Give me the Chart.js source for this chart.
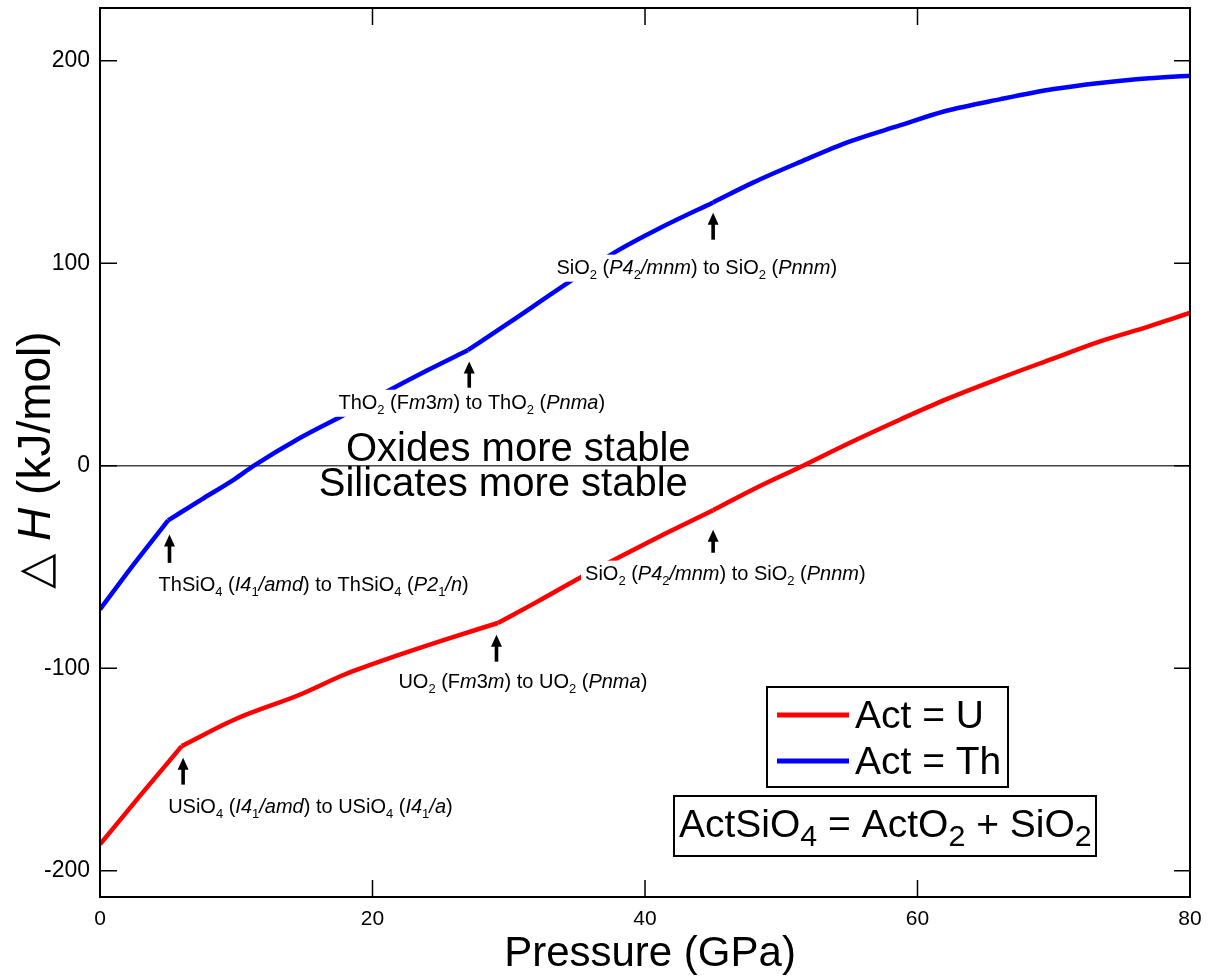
<!DOCTYPE html>
<html>
<head>
  <title>ActSiO4 decomposition enthalpy</title>
  <script src="https://cdn.jsdelivr.net/npm/chart.js"></script>
  <style>
    body { margin: 0; background: #fff; }
    #wrap { width: 1215px; height: 978px; }
  </style>
</head>
<body>
<div id="wrap"><canvas id="enthalpyChart"></canvas></div>
<script>
  // values (pressure in GPa, enthalpy in kJ/mol)
  const pressureU = [0, 2.9, 6, 10, 14.7, 18, 22, 25.5, 29.2, 32, 35.2, 38.2, 41.5, 45, 48, 51.6, 55, 58.7, 62, 66.1, 70, 73.4, 77, 80];
  const enthalpyU = [-187, -163.3, -138.5, -125, -113, -103, -93.3, -85.5, -77.7, -67.5, -55.5, -44.8, -33.5, -22, -11.5, 0, 11.2, 22.7, 32.5, 43.3, 53, 61.4, 68.8, 75.4];
  const pressureTh = [0, 2.5, 5, 7.5, 9.8, 11.3, 14.7, 17.8, 21.3, 24, 27, 30, 34.5, 37.9, 41, 45, 48, 51.4, 55, 58.7, 62, 66.1, 70, 73.4, 77, 80];
  const enthalpyTh = [-71, -48.5, -27, -16.5, -7, 0, 13.8, 24.7, 37.5, 47, 57, 70.5, 91, 105.8, 117, 130, 140, 150, 160, 168, 175, 181, 186, 189, 191.3, 192.6];
  // pressures where a phase changes (kinks in the curves)
  const breaksU = [6, 29.2, 45];
  const breaksTh = [5, 27, 45];
  const seriesLabels = ['Act = U', 'Act = Th'];
  const seriesColors = ['#ff0000', '#0000ff'];

  const xTicks = [0, 20, 40, 60, 80];
  const yTicks = [-200, -100, 0, 100, 200];

  // phase transition notes: * toggles italic, _ makes next char a subscript
  const transitionLabels = [
    'ThSiO_4 (*I4*_1*/amd*) to ThSiO_4 (*P2*_1*/n*)',
    'ThO_2 (F*m*3*m*) to ThO_2 (*Pnma*)',
    'SiO_2 (*P4*_2*/mnm*) to SiO_2 (*Pnnm*)',
    'SiO_2 (*P4*_2*/mnm*) to SiO_2 (*Pnnm*)',
    'UO_2 (F*m*3*m*) to UO_2 (*Pnma*)',
    'USiO_4 (*I4*_1*/amd*) to USiO_4 (*I4*_1*/a*)'
  ];
  const arrowP = [5.1, 27.1, 45, 45, 29.1, 6.1];
  const arrowTipH = [-34, 51.4, 124.9, -31.6, -83.5, -144.2];
  const arrowTailH = [-48, 38.5, 111.6, -43, -96.8, -157.5];
  const labelP = [4.3, 17.5, 33.5, 35.6, 21.9, 5.0];
  const labelH = [-61.7, 28.1, 94.8, -56.3, -109.6, -171.4];

  const regionLabels = ['Oxides more stable', 'Silicates more stable'];
  const regionP = [30.7, 29.6];
  const regionH = [2.1, -15.2];
  const reactionLabel = 'ActSiO_4 = ActO_2 + SiO_2';

  const FONT = 'Arial, "Liberation Sans", sans-serif';

  // one dataset per phase regime, so the kinks stay sharp
  function segments(px, hs, breaks, color) {
    const out = [];
    let cur = [];
    px.forEach((p, i) => {
      cur.push({ x: p, y: hs[i] });
      if (breaks.includes(p)) { out.push(cur); cur = [{ x: p, y: hs[i] }]; }
    });
    out.push(cur);
    return out.map(pts => ({
      data: pts,
      borderColor: color,
      fill: false,
      cubicInterpolationMode: 'monotone'
    }));
  }

  function parseRich(str) {
    const segs = [];
    let italic = false;
    for (let i = 0; i < str.length; i++) {
      const c = str[i];
      if (c === '*') { italic = !italic; continue; }
      if (c === '_') { segs.push({ t: str[++i], italic, sub: true }); continue; }
      const last = segs[segs.length - 1];
      if (last && !last.sub && last.italic === italic) last.t += c;
      else segs.push({ t: c, italic, sub: false });
    }
    return segs;
  }

  function segFont(seg, size, subScale) {
    const s = seg.sub ? size * subScale : size;
    return (seg.italic ? 'italic ' : '') + s + 'px ' + FONT;
  }

  function richWidth(ctx, segs, size, subScale) {
    let w = 0;
    segs.forEach(seg => { ctx.font = segFont(seg, size, subScale); w += ctx.measureText(seg.t).width; });
    return w;
  }

  function drawRich(ctx, segs, x, y, size, subScale, subDrop) {
    ctx.textBaseline = 'alphabetic';
    ctx.textAlign = 'left';
    segs.forEach(seg => {
      ctx.font = segFont(seg, size, subScale);
      ctx.fillText(seg.t, x, y + (seg.sub ? subDrop : 0));
      x += ctx.measureText(seg.t).width;
    });
    return x;
  }

  function drawArrow(ctx, x, yTip, yTail) {
    ctx.fillStyle = '#000';
    ctx.fillRect(x - 1.8, yTip + 10, 3.6, yTail - yTip - 10);
    ctx.beginPath();
    ctx.moveTo(x, yTip);
    ctx.lineTo(x - 5.5, yTip + 12);
    ctx.lineTo(x + 5.5, yTip + 12);
    ctx.closePath();
    ctx.fill();
  }

  const decor = {
    id: 'decor',
    afterDatasetsDraw(chart) {
      const ctx = chart.ctx;
      const xs = chart.scales.x, ys = chart.scales.y;
      const area = chart.chartArea;
      ctx.save();

      // transition notes with white backing, then arrows
      transitionLabels.forEach((txt, i) => {
        const segs = parseRich(txt);
        const x = xs.getPixelForValue(labelP[i]);
        const y = ys.getPixelForValue(labelH[i]);
        const w = richWidth(ctx, segs, 20, 0.65);
        ctx.fillStyle = '#fff';
        ctx.fillRect(x - 4, y - 19, w + 8, 27);
        ctx.fillStyle = '#000';
        drawRich(ctx, segs, x, y, 20, 0.65, 5);
        drawArrow(ctx, xs.getPixelForValue(arrowP[i]), ys.getPixelForValue(arrowTipH[i]), ys.getPixelForValue(arrowTailH[i]));
      });

      // region labels around the zero line
      ctx.fillStyle = '#000';
      ctx.font = '40px ' + FONT;
      ctx.textAlign = 'center';
      ctx.textBaseline = 'alphabetic';
      regionLabels.forEach((txt, i) => {
        ctx.fillText(txt, xs.getPixelForValue(regionP[i]), ys.getPixelForValue(regionH[i]));
      });

      // legend box
      ctx.lineWidth = 2;
      ctx.strokeStyle = '#000';
      ctx.strokeRect(767, 687, 241, 100);
      seriesLabels.forEach((label, i) => {
        const ly = 715 + i * 46;
        ctx.strokeStyle = seriesColors[i];
        ctx.lineWidth = 5;
        ctx.beginPath();
        ctx.moveTo(777, ly);
        ctx.lineTo(849, ly);
        ctx.stroke();
        ctx.fillStyle = '#000';
        ctx.font = '39px ' + FONT;
        ctx.textAlign = 'left';
        ctx.fillText(label, 855, ly + 13);
      });

      // reaction box
      ctx.strokeStyle = '#000';
      ctx.lineWidth = 2;
      ctx.strokeRect(674, 796, 422, 60);
      ctx.fillStyle = '#000';
      drawRich(ctx, parseRich(reactionLabel), 679, 837, 39, 0.78, 9);

      // frame and inward ticks
      ctx.strokeStyle = '#000';
      ctx.lineWidth = 2;
      ctx.strokeRect(area.left, area.top, area.right - area.left, area.bottom - area.top);
      ctx.lineWidth = 1.5;
      ctx.beginPath();
      xTicks.forEach(v => {
        const px = xs.getPixelForValue(v);
        ctx.moveTo(px, area.bottom); ctx.lineTo(px, area.bottom - 17);
        ctx.moveTo(px, area.top); ctx.lineTo(px, area.top + 17);
      });
      yTicks.forEach(v => {
        const py = ys.getPixelForValue(v);
        ctx.moveTo(area.left, py); ctx.lineTo(area.left + 17, py);
        ctx.moveTo(area.right, py); ctx.lineTo(area.right - 16, py);
      });
      ctx.stroke();

      // axis titles
      ctx.fillStyle = '#000';
      ctx.font = '42px ' + FONT;
      ctx.textAlign = 'center';
      ctx.fillText('Pressure (GPa)', (area.left + area.right) / 2 + 5, 966);

      const ySegs = parseRich('\u25B3 *H* (kJ/mol)');
      const yw = richWidth(ctx, ySegs, 46, 1);
      ctx.translate(50, 460);
      ctx.rotate(-Math.PI / 2);
      drawRich(ctx, ySegs, -yw / 2, 0, 46, 1, 0);
      ctx.restore();
    }
  };

  const ctx = document.getElementById('enthalpyChart').getContext('2d');
  new Chart(ctx, {
    type: 'line',
    data: {
      datasets: [
        ...segments(pressureU, enthalpyU, breaksU, seriesColors[0]),
        ...segments(pressureTh, enthalpyTh, breaksTh, seriesColors[1])
      ]
    },
    options: {
      responsive: true,
      maintainAspectRatio: false,
      animation: false,
      layout: { padding: { top: 8, right: 25, left: 0, bottom: 0 } },
      plugins: { legend: { display: false }, tooltip: { enabled: false } },
      elements: {
        point: { radius: 0 },
        line: { borderWidth: 4.5, borderCapStyle: 'butt' }
      },
      scales: {
        x: {
          type: 'linear',
          min: 0,
          max: 80,
          afterBuildTicks: s => { s.ticks = xTicks.map(v => ({ value: v })); },
          afterFit: s => { s.height = 81; s.paddingLeft = 0; s.paddingRight = 0; },
          grid: { display: false, drawTicks: false },
          border: { display: false },
          ticks: { padding: 10, maxRotation: 0, color: '#000', font: { family: FONT, size: 21 } }
        },
        y: {
          type: 'linear',
          min: -213,
          max: 226,
          afterBuildTicks: s => { s.ticks = yTicks.map(v => ({ value: v })); },
          afterFit: s => { s.width = 100; s.paddingTop = 0; s.paddingBottom = 0; },
          grid: {
            drawTicks: false,
            lineWidth: 1.5,
            color: c => (c.tick && c.tick.value === 0 ? '#444' : 'rgba(0,0,0,0)')
          },
          border: { display: false },
          ticks: { padding: 10, color: '#000', font: { family: FONT, size: 23 } }
        }
      }
    },
    plugins: [decor]
  });
</script>
</body>
</html>
